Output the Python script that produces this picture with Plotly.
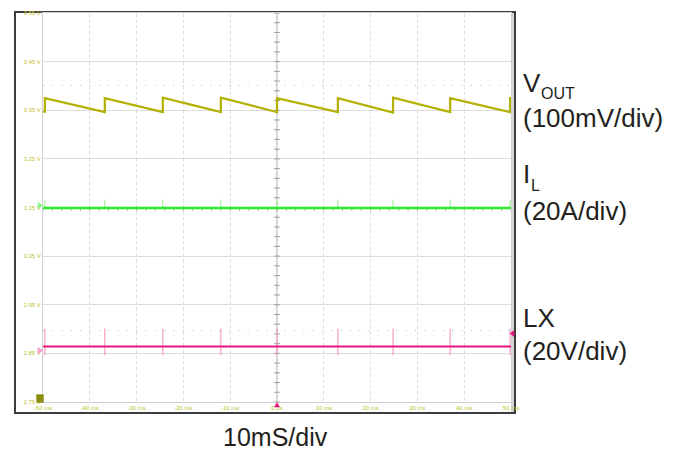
import plotly.graph_objects as go

# Graticule labels: 10 ms per horizontal division, 100 mV per vertical division
x_tick_vals = [-50, -40, -30, -20, -10, 0, 10, 20, 30, 40, 50]
x_tick_text = ["-50 ms", "-40 ms", "-30 ms", "-20 ms", "-10 ms", "0 µs",
               "10 ms", "20 ms", "30 ms", "40 ms", "50 ms"]
y_tick_vals = [3.55, 3.45, 3.35, 3.25, 3.15, 3.05, 2.95, 2.85, 2.75]
y_tick_text = ["3.55 V", "3.45 V", "3.35 V", "3.25 V", "3.15 V",
               "3.05 V", "2.95 V", "2.85 V", "2.75 V"]

# Switching bursts (ms) and the output voltage just before / after each one
pulse_times = [-49.6, -36.8, -24.4, -12.0, 0.0, 13.0, 24.8, 37.0, 49.8]
vout_valley = [3.347, 3.346, 3.346, 3.346, 3.346, 3.346, 3.345, 3.346, 3.346]
vout_peak = [3.375, 3.375, 3.376, 3.376, 3.375, 3.375, 3.376, 3.375, 3.375]
vout_end = 3.375

# Inductor current trace (screen level) and its spike height
il_level = 3.149
il_spike = 3.166

# Switch node trace (screen level) and its spike extent
lx_level = 2.864
lx_spike_hi = 2.901
lx_spike_lo = 2.846

# Cursor levels shown as dotted lines
cursor_levels = [3.401, 2.897]

X0, X1 = -50, 50
Y0, Y1 = 2.75, 3.55

C_VOUT = "#b3b000"
C_IL = "#2ee82e"
C_IL_SPIKE = "#8cf28c"
C_LX = "#e8157c"
C_LX_SPIKE = "#f59cc6"
C_TICK = "#c2c22a"
C_TEXT = "#231f20"

fig = go.Figure()

# centre graticule cross with minor ticks
minor_y = [round(Y0 + 0.02 * i, 3) for i in range(int(round((Y1 - Y0) / 0.02)) + 1)]
minor_x = [X0 + 2 * i for i in range(int((X1 - X0) / 2) + 1)]
fig.add_trace(go.Scatter(x=[0] * len(minor_y), y=minor_y, mode="markers",
                         marker=dict(symbol="line-ew", size=4,
                                     line=dict(color="#9a9a9a", width=1)),
                         hoverinfo="skip", showlegend=False))
fig.add_trace(go.Scatter(x=minor_x, y=[3.147] * len(minor_x), mode="markers",
                         marker=dict(symbol="line-ns", size=3,
                                     line=dict(color="#b0b0b0", width=1)),
                         hoverinfo="skip", showlegend=False))

# VOUT sawtooth: ramps down between bursts, steps up at each burst
vx, vy = [X0], [vout_valley[0]]
for t, lo, hi in zip(pulse_times, vout_valley, vout_peak):
    vx += [t, t]
    vy += [lo, hi]
vx.append(X1)
vy.append(vout_end)
fig.add_trace(go.Scatter(x=vx, y=vy, mode="lines",
                         line=dict(color=C_VOUT, width=2.2),
                         hoverinfo="skip", showlegend=False))

# IL trace with small spikes at each burst
sx, sy = [], []
for t in pulse_times:
    sx += [t, t, None]
    sy += [il_level, il_spike, None]
fig.add_trace(go.Scatter(x=sx, y=sy, mode="lines",
                         line=dict(color=C_IL_SPIKE, width=1),
                         hoverinfo="skip", showlegend=False))
fig.add_trace(go.Scatter(x=[X0, X1], y=[il_level, il_level], mode="lines",
                         line=dict(color=C_IL, width=2.6),
                         hoverinfo="skip", showlegend=False))

# LX trace with switching spikes
sx, sy = [], []
for t in pulse_times:
    sx += [t, t, None]
    sy += [lx_spike_lo, lx_spike_hi, None]
fig.add_trace(go.Scatter(x=sx, y=sy, mode="lines",
                         line=dict(color=C_LX_SPIKE, width=1.2),
                         hoverinfo="skip", showlegend=False))
fig.add_trace(go.Scatter(x=[X0, X1], y=[lx_level, lx_level], mode="lines",
                         line=dict(color=C_LX, width=2),
                         hoverinfo="skip", showlegend=False))

# plot area geometry in pixels
L, R, T, B = 43, 511, 10, 402
W, H = 683, 458


def px(x):
    return (x - L) / (R - L)


def py(y):
    return (B - y) / (B - T)


def glyph(points, color):
    """Small filled screen indicator given as pixel vertices."""
    d = "M " + " L ".join(f"{px(a):.5f},{py(b):.5f}" for a, b in points) + " Z"
    return dict(type="path", xref="paper", yref="paper", path=d,
                fillcolor=color, line=dict(color=color, width=0.5), layer="above")


shapes = []
for lvl in cursor_levels:
    shapes.append(dict(type="line", xref="x", yref="y", x0=X0, x1=X1, y0=lvl, y1=lvl,
                       line=dict(color="#b8b8b8", width=1, dash="1px,8.3px"),
                       layer="below"))
shapes.append(dict(type="line", xref="x", yref="y", x0=0, x1=0, y0=Y0, y1=Y1,
                   line=dict(color="#a8a8a8", width=1), layer="below"))
# scope frame
shapes.append(dict(type="line", xref="paper", yref="paper",
                   x0=px(512.5), x1=px(512.5), y0=py(412), y1=py(10),
                   line=dict(color="#d6d6d6", width=3), layer="below"))
shapes.append(dict(type="rect", xref="paper", yref="paper",
                   x0=px(15), x1=px(515), y0=py(413), y1=py(9),
                   line=dict(color="#3c3c3c", width=2), layer="below"))
# channel offset / trigger indicators
shapes.append(glyph([(38, 201), (43, 204), (38, 207)], C_IL_SPIKE))
shapes.append(glyph([(38, 347), (43, 350), (38, 353)], C_LX_SPIKE))
shapes.append(glyph([(36.5, 394.5), (43.5, 394.5), (43.5, 402.5), (36.5, 402.5)], "#8d8d12"))
shapes.append(glyph([(274.5, 407), (279.5, 407), (277, 402.5)], C_LX))
shapes.append(glyph([(510, 333), (514, 330), (514, 336)], C_LX))

FONT = "Liberation Sans, Arial, sans-serif"
annotations = []


def label(text, x, y, size, anchor="left"):
    annotations.append(dict(text=text, xref="paper", yref="paper",
                            x=px(x), y=py(y), xanchor=anchor, yanchor="middle",
                            showarrow=False,
                            font=dict(family=FONT, size=size, color=C_TEXT)))


label("V", 521, 81, 26)
label("OUT", 539, 91.5, 16)
label("(100mV/div)", 521, 115.5, 26)
label("I", 521, 172.5, 26)
label("L", 529, 183.5, 16)
label("(20A/div)", 521, 210, 26)
label("LX", 521, 317.5, 26)
label("(20V/div)", 521, 351, 26)
label("10mS/div", 275, 437, 25, anchor="center")

fig.update_layout(
    width=W, height=H,
    margin=dict(l=L, r=W - R, t=T, b=H - B, pad=0),
    paper_bgcolor="white", plot_bgcolor="white",
    shapes=shapes, annotations=annotations,
    xaxis=dict(range=[X0, X1], tickvals=x_tick_vals, ticktext=x_tick_text,
               showgrid=True, gridcolor="#e2e2e2", griddash="4px,2px", gridwidth=1,
               zeroline=False, showline=True, linecolor="#d0d0d0", mirror=True,
               ticks="", tickfont=dict(family=FONT, size=6, color=C_TICK),
               fixedrange=True),
    yaxis=dict(range=[Y0, Y1], tickvals=y_tick_vals, ticktext=y_tick_text,
               showgrid=True, gridcolor="#dcdcdc", gridwidth=1,
               zeroline=False, showline=True, linecolor="#d0d0d0", mirror=True,
               ticks="", tickfont=dict(family=FONT, size=6, color=C_TICK),
               fixedrange=True),
)

fig.write_html("out.html")
